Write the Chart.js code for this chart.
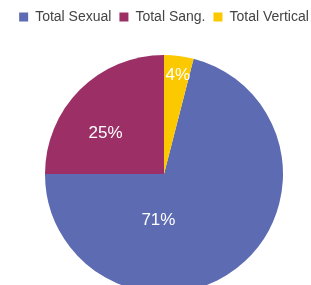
<!DOCTYPE html>
<html>
<head>
<meta charset="utf-8">
<script src="https://cdnjs.cloudflare.com/ajax/libs/Chart.js/4.4.0/chart.umd.min.js"></script>
<style>
    html, body { margin: 0; padding: 0; background: #fff; overflow: hidden; }
    #wrap { position: relative; width: 328px; height: 293px; }
</style>
</head>
<body>
<div id="wrap"><canvas id="chart"></canvas></div>
<script>
// data
const categories = ["Total Sexual", "Total Sang.", "Total Vertical"];
const shares = [71, 25, 4];
const sliceColors = ["#5d6bb3", "#9c3066", "#fcc800"];

// where the % label sits inside each slice: [fraction along the arc, fraction of radius]
const labelSpots = [[0.675, 0.39], [0.39, 0.6], [0.55, 0.84]];

const legendGap = {
    id: "legendGap",
    beforeInit(chart) {
        const fit = chart.legend.fit;
        chart.legend.fit = function () {
            fit.bind(chart.legend)();
            this.height += 21;
        };
    }
};

const pctLabels = {
    id: "pctLabels",
    afterDatasetsDraw(chart) {
        const ctx = chart.ctx;
        const meta = chart.getDatasetMeta(0);
        ctx.save();
        ctx.fillStyle = "#ffffff";
        ctx.font = "17px 'Liberation Sans', Arial, sans-serif";
        ctx.textAlign = "center";
        ctx.textBaseline = "middle";
        meta.data.forEach((arc, i) => {
            const p = arc.getProps(["x", "y", "startAngle", "endAngle", "outerRadius"], true);
            const [t, f] = labelSpots[i];
            const a = p.startAngle + (p.endAngle - p.startAngle) * t;
            const r = p.outerRadius * f;
            ctx.fillText(shares[i] + "%", p.x + Math.cos(a) * r, p.y + Math.sin(a) * r);
        });
        ctx.restore();
    }
};

new Chart(document.getElementById("chart"), {
    type: "pie",
    data: {
        labels: categories,
        datasets: [{
            data: shares,
            backgroundColor: sliceColors,
            borderWidth: 0
        }]
    },
    options: {
        responsive: true,
        maintainAspectRatio: false,
        animation: false,
        rotation: 14.4,
        layout: { padding: { top: 2 } },
        plugins: {
            tooltip: { enabled: false },
            legend: {
                position: "top",
                labels: {
                    boxWidth: 9,
                    boxHeight: 9,
                    padding: 8,
                    color: "#444",
                    font: { size: 14, family: "'Liberation Sans', Arial, sans-serif" }
                }
            }
        }
    },
    plugins: [legendGap, pctLabels]
});
</script>
</body>
</html>
